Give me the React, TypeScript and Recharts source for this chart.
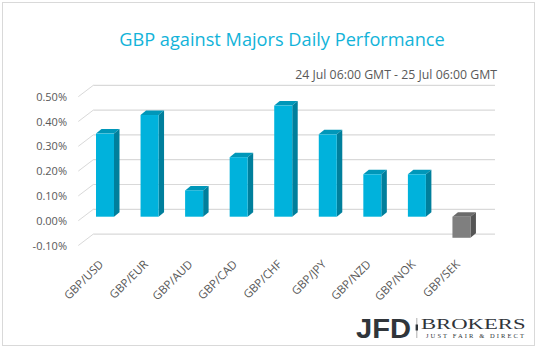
import React from "react";
import { BarChart, Bar, XAxis, YAxis, CartesianGrid } from "recharts";

const categories = ["GBP/USD", "GBP/EUR", "GBP/AUD", "GBP/CAD", "GBP/CHF", "GBP/JPY", "GBP/NZD", "GBP/NOK", "GBP/SEK"];
const performance = [0.335, 0.41, 0.106, 0.24, 0.448, 0.332, 0.171, 0.171, -0.085];
const yTicks = [-0.1, 0, 0.1, 0.2, 0.3, 0.4, 0.5];
const title = "GBP against Majors Daily Performance";
const subtitle = "24 Jul 06:00 GMT - 25 Jul 06:00 GMT";

const data = categories.map((name, i) => ({ name, value: performance[i] }));

const W = 538;
const H = 351;
const FONT = "'Open Sans', 'Segoe UI', sans-serif";
const GRID = "#d9d9d9";
const TEXT = "#595959";

// 3D layout constants
const FRONT_DY = 4; // label plane offset from bar plane
const BACK_DY = -7.4; // back wall offset from bar plane
const WALL_FRONT_X = 78.3;
const WALL_BACK_X = 93.3;
const WALL_RIGHT_X = 495;
const DX = 5.5;
const DY = 4.5;

const POS = { front: "#00b2dc", side: "#007f9c", top: "#0097b9" };
const NEG = { front: "#7f7f7f", side: "#555555", top: "#6b6b6b" };

const fmt = (v: number) => `${v.toFixed(2)}%`;

function Bar3D(props: any) {
  const { x, y, width, height, payload } = props;
  const top = Math.min(y, y + height);
  const bottom = Math.max(y, y + height);
  const c = payload.value < 0 ? NEG : POS;
  return (
    <g>
      <polygon
        points={`${x},${top} ${x + DX},${top - DY} ${x + width + DX},${top - DY} ${x + width},${top}`}
        fill={c.top}
      />
      <polygon
        points={`${x + width},${top} ${x + width + DX},${top - DY} ${x + width + DX},${bottom - DY} ${x + width},${bottom}`}
        fill={c.side}
      />
      <rect x={x} y={top} width={width} height={bottom - top} fill={c.front} />
    </g>
  );
}

function YTick(props: any) {
  const { y, payload } = props;
  return (
    <g>
      <line x1={WALL_FRONT_X} y1={y + FRONT_DY} x2={WALL_BACK_X} y2={y + BACK_DY} stroke={GRID} strokeWidth={1} />
      <text x={67} y={y + FRONT_DY} dy={4} textAnchor="end" fontSize={11} fill={TEXT} fontFamily={FONT}>
        {fmt(payload.value)}
      </text>
    </g>
  );
}

function XTick(props: any) {
  const { x, payload } = props;
  const ax = x - 1;
  const ay = 265;
  return (
    <text
      x={ax}
      y={ay}
      textAnchor="end"
      fontSize={11.5}
      fill={TEXT}
      fontFamily={FONT}
      transform={`rotate(-45 ${ax} ${ay})`}
    >
      {payload.value}
    </text>
  );
}

function backGridLine(props: any) {
  const { y1, index } = props;
  return (
    <line
      key={`bg-${index}`}
      x1={WALL_BACK_X}
      y1={y1 + BACK_DY}
      x2={WALL_RIGHT_X}
      y2={y1 + BACK_DY}
      stroke={GRID}
      strokeWidth={1.2}
    />
  );
}

export default function App() {
  return (
    <div style={{ position: "relative", width: W, height: H, background: "#fff" }}>
      <style>{`body{margin:0;}`}</style>
      <svg width={W} height={H} style={{ position: "absolute", left: 0, top: 0 }}>
        <rect x={2.5} y={2.5} width={532} height={343} fill="#fff" stroke={GRID} strokeWidth={1} />
        <text x={282} y={46} textAnchor="middle" fontSize={18.2} fill="#12b3d9" fontFamily={FONT}>
          {title}
        </text>
        <text x={497} y={79} textAnchor="end" fontSize={12.3} fill={TEXT} fontFamily={FONT}>
          {subtitle}
        </text>
        <text
          x={356}
          y={337.5}
          fontSize={28}
          fontWeight={700}
          fill="#30353a"
          fontFamily="'Liberation Sans', Arial, sans-serif"
          textLength={55}
          lengthAdjust="spacingAndGlyphs"
        >
          JFD
        </text>
        <line x1={416.8} y1={318} x2={416.8} y2={338} stroke="#9a9a9a" strokeWidth={0.8} />
        <rect x={415.6} y={324.5} width={2.4} height={6} fill="#30353a" />
        <text
          x={421}
          y={328.5}
          fontSize={15.5}
          fill="#30353a"
          fontFamily="'Liberation Serif', 'DejaVu Serif', serif"
          textLength={104.5}
          lengthAdjust="spacingAndGlyphs"
        >
          BROKERS
        </text>
        <text
          x={426}
          y={338}
          fontSize={6.5}
          fill="#30353a"
          fontFamily="'Liberation Serif', 'DejaVu Serif', serif"
          textLength={98}
          lengthAdjust="spacing"
        >
          JUST FAIR &amp; DIRECT
        </text>
      </svg>
      <div style={{ position: "absolute", left: 0, top: 0 }}>
        <BarChart
          width={W}
          height={H}
          data={data}
          margin={{ top: 92.7, right: 54, bottom: 0, left: 0 }}
        >
          <CartesianGrid vertical={false} horizontal={backGridLine} />
          <YAxis
            width={83}
            domain={[-0.1, 0.5]}
            ticks={yTicks}
            type="number"
            axisLine={false}
            tickLine={false}
            tick={<YTick />}
            allowDataOverflow
          />
          <XAxis
            dataKey="name"
            height={109.5}
            axisLine={false}
            tickLine={false}
            tick={<XTick />}
            interval={0}
          />
          <Bar dataKey="value" barSize={18} shape={<Bar3D />} isAnimationActive={false} />
        </BarChart>
      </div>
    </div>
  );
}
